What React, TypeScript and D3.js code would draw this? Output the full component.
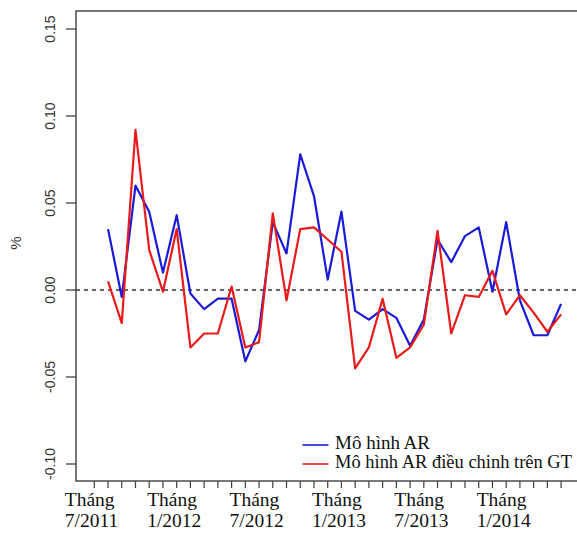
import React from "react";
import * as d3 from "d3";

const months = [
  "7/2011", "8/2011", "9/2011", "10/2011", "11/2011", "12/2011",
  "1/2012", "2/2012", "3/2012", "4/2012", "5/2012", "6/2012",
  "7/2012", "8/2012", "9/2012", "10/2012", "11/2012", "12/2012",
  "1/2013", "2/2013", "3/2013", "4/2013", "5/2013", "6/2013",
  "7/2013", "8/2013", "9/2013", "10/2013", "11/2013", "12/2013",
  "1/2014", "2/2014", "3/2014", "4/2014", "5/2014",
];

// data start at 8/2011
const arModel = [
  0.035, -0.004, 0.060, 0.045, 0.010, 0.043, -0.002, -0.011, -0.005, -0.005,
  -0.041, -0.023, 0.039, 0.021, 0.078, 0.054, 0.006, 0.045, -0.012, -0.017,
  -0.011, -0.016, -0.032, -0.017, 0.029, 0.016, 0.031, 0.036, -0.001, 0.039,
  -0.006, -0.026, -0.026, -0.008,
];

const arGT = [
  0.005, -0.019, 0.092, 0.023, -0.001, 0.035, -0.033, -0.025, -0.025, 0.002,
  -0.033, -0.030, 0.044, -0.006, 0.035, 0.036, 0.029, 0.022, -0.045, -0.033,
  -0.005, -0.039, -0.033, -0.020, 0.034, -0.025, -0.003, -0.004, 0.011, -0.014,
  -0.003, -0.013, -0.024, -0.014,
];

const yTicks = [-0.10, -0.05, 0.0, 0.05, 0.10, 0.15];
const labelMonths = ["7/2011", "1/2012", "7/2012", "1/2013", "7/2013", "1/2014"];
const seriesNames = ["Mô hình AR", "Mô hình AR điều chinh trên GT"];

const W = 577;
const H = 541;

export default function App() {
  const x = d3.scaleLinear().domain([0, months.length - 1]).range([94.3, 561.1]);
  const y = d3.scaleLinear().domain([0, 0.15]).range([290, 29]);

  const left = 76, top = 11, right = 580, bottom = 481;

  const line = d3
    .line<number>()
    .x((_, i) => x(i + 1))
    .y((d) => y(d));

  const blue = "#1a1ad8";
  const red = "#e81a1a";
  const axisCol = "#404040";
  const sans = "'Liberation Sans', Arial, sans-serif";
  const serif = "'Liberation Serif', 'Times New Roman', serif";

  return (
    <svg
      width={W}
      height={H}
      style={{ position: "absolute", left: 0, top: 0, background: "#fff" }}
    >
      <rect x={0} y={0} width={W} height={H} fill="#fff" />
      {/* box */}
      <rect
        x={left}
        y={top}
        width={right - left}
        height={bottom - top}
        fill="none"
        stroke={axisCol}
        strokeWidth={1.4}
      />
      {/* zero line */}
      <line
        x1={left}
        x2={right}
        y1={y(0)}
        y2={y(0)}
        stroke="#333"
        strokeWidth={1.3}
        strokeDasharray="4,4"
      />
      {/* y axis */}
      {yTicks.map((t) => (
        <g key={t}>
          <line x1={66} x2={left} y1={y(t)} y2={y(t)} stroke={axisCol} strokeWidth={1.3} />
          <text
            transform={`translate(54.5,${y(t)}) rotate(-90)`}
            textAnchor="middle"
            fontFamily={sans}
            fontSize={14}
            fill="#333"
          >
            {t.toFixed(2)}
          </text>
        </g>
      ))}
      <text
        transform={`translate(21,${(top + bottom) / 2 - 3}) rotate(-90)`}
        textAnchor="middle"
        fontFamily={sans}
        fontSize={15}
        fill="#333"
      >
        %
      </text>
      {/* x ticks */}
      {months.map((m, i) => (
        <line key={m} x1={x(i)} x2={x(i)} y1={bottom} y2={488} stroke={axisCol} strokeWidth={1.2} />
      ))}
      {labelMonths.map((m) => {
        const i = months.indexOf(m);
        return (
          <text key={m} fontFamily={serif} fontSize={19.5} fill="#111">
            <tspan x={x(i) - 29.5} y={506}>
              Tháng
            </tspan>
            <tspan x={x(i) - 29.5} y={527}>
              {m}
            </tspan>
          </text>
        );
      })}
      {/* lines */}
      <path d={line(arModel) || ""} fill="none" stroke={blue} strokeWidth={2.2} strokeLinejoin="round" />
      <path d={line(arGT) || ""} fill="none" stroke={red} strokeWidth={2.2} strokeLinejoin="round" />
      {/* legend */}
      <line x1={302.5} x2={328.5} y1={445} y2={445} stroke={blue} strokeWidth={1.6} />
      <text x={335} y={449} fontFamily={serif} fontSize={19} fill="#111">
        {seriesNames[0]}
      </text>
      <line x1={302.5} x2={328.5} y1={464} y2={464} stroke={red} strokeWidth={1.6} />
      <text x={335} y={468} fontFamily={serif} fontSize={18.5} fill="#111" textLength={237} lengthAdjust="spacingAndGlyphs">
        {seriesNames[1]}
      </text>
    </svg>
  );
}
